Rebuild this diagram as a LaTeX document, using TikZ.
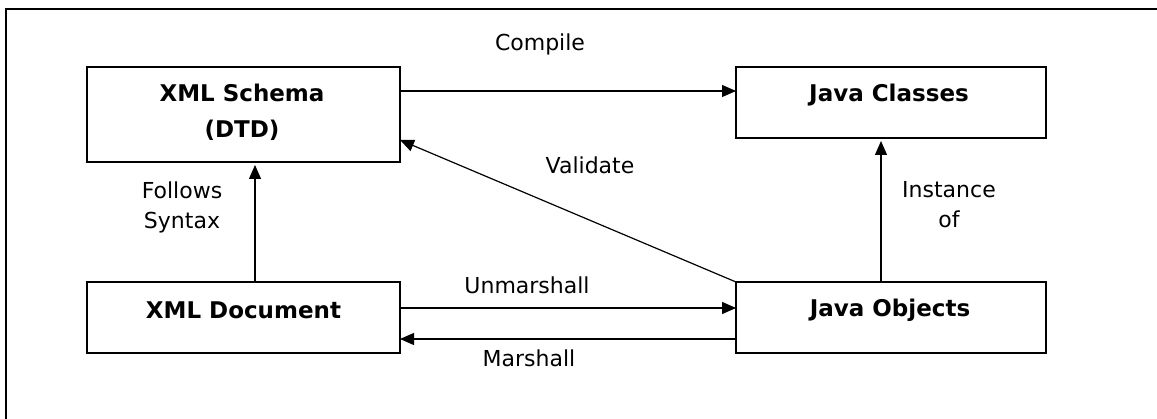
\documentclass[tikz,border=0pt]{standalone}
\usepackage{fontspec}
\setmainfont{DejaVu Sans}
\usetikzlibrary{arrows.meta,calc}

\tikzset{
  box/.style={draw=black, line width=1.6pt, fill=white, rectangle,
              inner sep=0pt, outer sep=0pt},
  boxtext/.style={font=\fontsize{23}{36}\selectfont\bfseries, align=center, inner sep=0pt},
  lbl/.style={font=\fontsize{22}{30}\selectfont, align=center, inner sep=0pt},
  arr/.style={line width=1.2pt, -{Triangle[length=14pt,width=12pt]}},
  frame/.style={line width=2pt}
}

\begin{document}
\begin{tikzpicture}[x=1pt,y=-1pt]
  \useasboundingbox (0,0) rectangle (1157,419);

  % outer frame (top and left edges)
  \draw[frame] (5.5,419) -- (5.5,9.5) -- (1157,9.5);

  % boxes
  \node[box, minimum width=313pt, minimum height=95pt] (schema)  at (243.5,114.5) {};
  \node[box, minimum width=310pt, minimum height=71pt] (classes) at (891,102.5) {};
  \node[box, minimum width=313pt, minimum height=71pt] (doc)     at (243.5,317.5) {};
  \node[box, minimum width=310pt, minimum height=71pt] (objects) at (891,317.5) {};

  % box captions
  \node[boxtext] (schemaT)  at ($(schema.center)+(-1.5,-2.5)$) {XML Schema\\(DTD)};
  \node[boxtext] (classesT) at ($(classes.center)+(-2,-7.5)$) {Java Classes};
  \node[boxtext] (docT)     at ($(doc.center)+(0,-7.5)$) {XML Document};
  \node[boxtext] (objectsT) at ($(objects.center)+(-1,-7.5)$) {Java Objects};

  % connectors
  \draw[arr] ($(schema.north east)+(0,24)$) -- ($(classes.north west)+(0,24)$);
  \draw[arr] (objects.north west) -- ($(schema.south east)+(0,-22)$);
  \draw[arr, shorten >=3pt] ($(doc.north)+(11.5,0)$) -- ($(schema.south)+(11.5,0)$);
  \draw[arr, shorten >=3pt] ($(objects.north)+(-10,0)$) -- ($(classes.south)+(-10,0)$);
  \draw[arr] ($(doc.north east)+(0,26)$) -- ($(objects.north west)+(0,26)$);
  \draw[arr] ($(objects.south west)+(0,-14)$) -- ($(doc.south east)+(0,-14)$);

  % connector labels
  \node[lbl] (compileL)    at (540,44)  {Compile};
  \node[lbl] (validateL)   at (590,165) {Validate};
  \node[lbl] (followsL)    at (182,207) {Follows\\Syntax};
  \node[lbl] (instanceL)   at (949,205) {Instance\\of};
  \node[lbl] (unmarshallL) at (527,285) {Unmarshall};
  \node[lbl] (marshallL)   at (529,358) {Marshall};
\end{tikzpicture}
\end{document}
